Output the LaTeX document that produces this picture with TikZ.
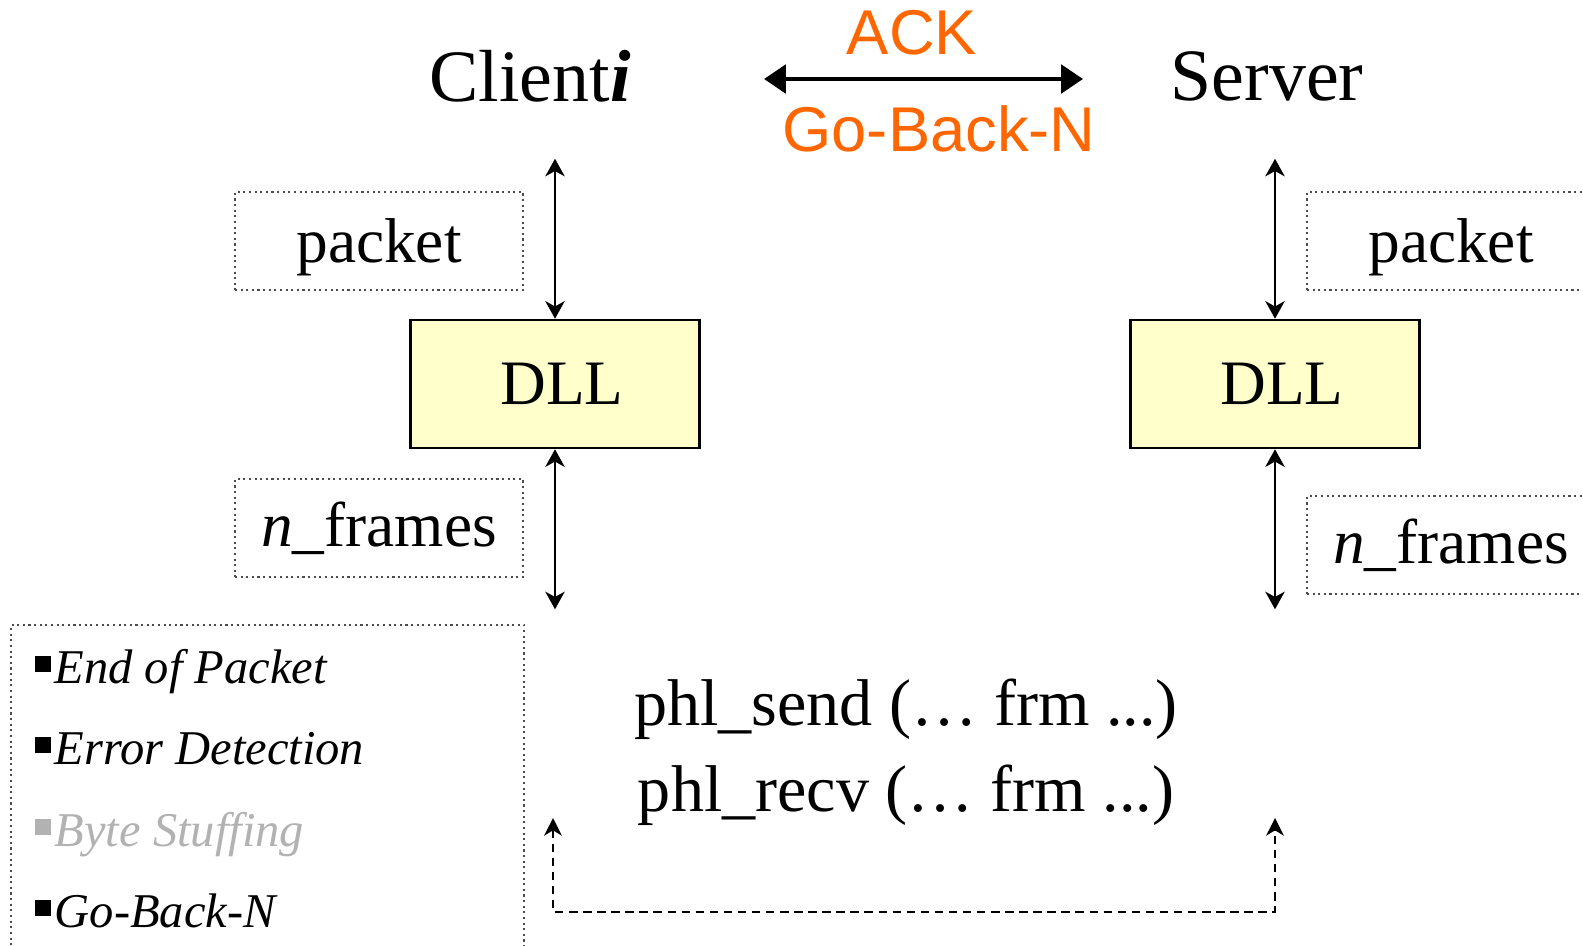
\documentclass[tikz,border=0pt]{standalone}
\usepackage{fontspec}
\setmainfont{Liberation Serif}
\newfontfamily\arialfont{Liberation Sans}
\usetikzlibrary{arrows.meta}
\definecolor{ackorange}{HTML}{FF6600}
\definecolor{dllyellow}{HTML}{FFFFCC}
\definecolor{stuffgray}{HTML}{B2B2B2}
\newcommand{\sqbul}[1][black]{\textcolor{#1}{\rule[0.22em]{0.34em}{0.34em}}\hspace{1pt}}
\tikzset{
  host/.style={inner sep=0pt, font=\fontsize{21}{24}\selectfont},
  proto/.style={inner sep=0pt, text=ackorange, font=\arialfont\fontsize{18}{20}\selectfont},
  layer/.style={draw, line width=0.7pt, fill=dllyellow, minimum width=2.89cm, minimum height=1.28cm, font=\fontsize{18}{20}\selectfont},
  databox/.style={draw=black!70, densely dotted, line width=0.6pt, minimum width=2.88cm, minimum height=0.98cm, font=\fontsize{18}{20}\selectfont},
  item/.style={anchor=base west, inner sep=0pt, font=\fontsize{13.8}{16}\selectfont\itshape},
  call/.style={inner sep=0pt, font=\fontsize{18.8}{21}\selectfont},
  io/.style={{Stealth[length=5pt,width=5.5pt,inset=1.5pt]}-{Stealth[length=5pt,width=5.5pt,inset=1.5pt]}, line width=0.6pt},
  ackline/.style={{Triangle[length=6.2pt,width=8pt]}-{Triangle[length=6.2pt,width=8pt]}, line width=1.3pt},
  phylink/.style={{Stealth[length=5pt,width=5pt,inset=1.5pt]}-{Stealth[length=5pt,width=5pt,inset=1.5pt]}, line width=0.6pt, dash pattern=on 2.4pt off 1.6pt},
}
\begin{document}
\begin{tikzpicture}[x=0.01cm,y=-0.01cm]
  \useasboundingbox (0,0) rectangle (1583,945);
  \clip (0,0) rectangle (1583,945);
  \node[host] (client) at (530,76) {Client\textbf{\textit{i}}};
  \node[host] (server) at (1267,76) {Server};
  \coordinate (ackL) at (764,79);
  \coordinate (ackR) at (1083,79);
  \draw[ackline] (ackL) -- (ackR);
  \node[proto] (ack) at (912,33) {ACK};
  \node[proto] (gbn) at (939,129) {Go-Back-N};
  \node[databox, text depth=0pt] (pktL) at (379,241) {packet};
  \node[layer] (dllL) at (555,384) {\hspace{4pt}DLL};
  \node[databox] (frmL) at (379,528) {\textit{n}\_frames};
  \node[databox, text depth=0pt] (pktR) at (1451,241) {packet};
  \node[layer] (dllR) at (1275,384) {\hspace{4pt}DLL};
  \node[databox] (frmR) at (1451,545) {\textit{n}\_frames};
  \path (dllL.north) ++(0,-160) coordinate (upL);
  \path (dllL.south) ++(0,160) coordinate (downL);
  \path (dllR.north) ++(0,-160) coordinate (upR);
  \path (dllR.south) ++(0,160) coordinate (downR);
  \draw[io] (upL) -- (dllL.north);
  \draw[io] (dllL.south) -- (downL);
  \draw[io] (upR) -- (dllR.north);
  \draw[io] (dllR.south) -- (downR);
  \node[databox, anchor=north west, minimum width=5.13cm, minimum height=3.6cm] (legend) at (10,624) {};
  \node[item] (eop) at (34,683) {\sqbul End of Packet};
  \node[item] (errdet) at (34,764) {\sqbul Error Detection};
  \node[item, text=stuffgray] (bytestuff) at (34,846) {\sqbul[stuffgray]Byte Stuffing};
  \node[item] (goback) at (34,927) {\sqbul Go-Back-N};
  \node[call] (send) at (906,709) {phl\_send (\dots\ frm ...)};
  \node[call] (recv) at (906,795) {phl\_recv (\dots\ frm ...)};
  \coordinate (phyL) at (553,818);
  \coordinate (phyR) at (1275,818);
  \coordinate (wire) at (1275,912);
  \draw[phylink] (phyL) |- (wire) -- (phyR);
\end{tikzpicture}
\end{document}
